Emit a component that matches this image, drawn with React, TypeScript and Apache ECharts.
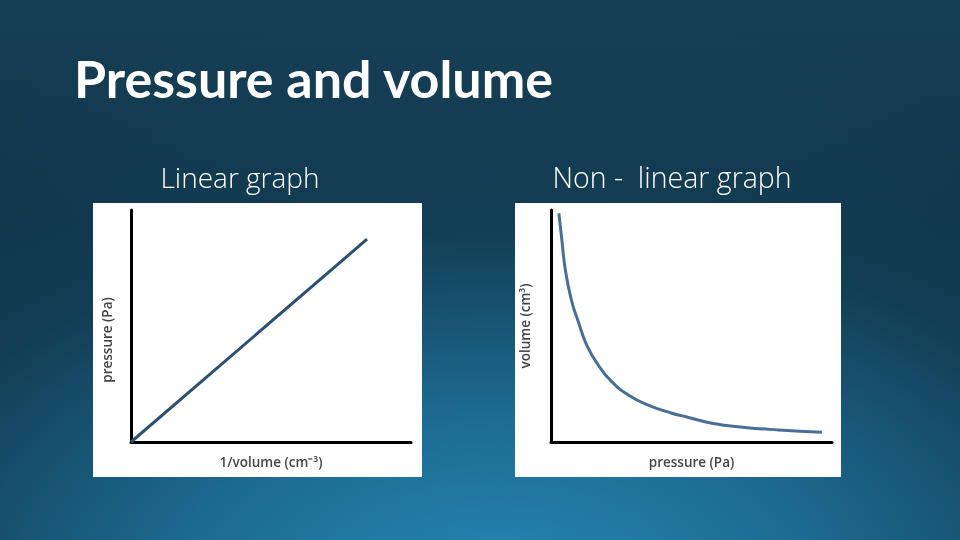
import React, { useEffect, useRef } from "react";
import * as echarts from "echarts";

const titleText = "Pressure and volume";
const subtitles = ["Linear graph", "Non -  linear graph"];
const axisNames = {
  leftX: "1/volume (cm⁻³)",
  leftY: "pressure (Pa)",
  rightX: "pressure (Pa)",
  rightY: "volume (cm³)",
};
const linearData: [number, number][] = [
  [0, 0],
  [8.43, 8.74],
];
const curveData: [number, number][] = [
  [0.28, 9.86],
  [0.38, 8.78],
  [0.52, 7.34],
  [0.74, 6.05],
  [0.97, 5.19],
  [1.27, 4.18],
  [1.68, 3.32],
  [2.16, 2.6],
  [2.75, 2.03],
  [3.46, 1.59],
  [4.3, 1.24],
  [4.77, 1.1],
  [5.73, 0.81],
  [6.91, 0.63],
  [8.1, 0.52],
  [9.64, 0.42],
];

export default function App() {
  const ref = useRef<HTMLDivElement>(null);
  useEffect(() => {
    if (!ref.current) return;
    const chart = echarts.init(ref.current, null, { renderer: "svg" });
    const axisLine = { show: true, lineStyle: { color: "#000", width: 3 } };
    const nameStyle = {
      fontFamily: "Open Sans",
      fontSize: 13.5,
      fontWeight: 600,
      color: "#454545",
    };
    const baseAxis = {
      type: "value" as const,
      min: 0,
      max: 10,
      axisLine,
      axisTick: { show: false },
      axisLabel: { show: false },
      splitLine: { show: false },
      nameLocation: "middle" as const,
      nameTextStyle: nameStyle,
    };
    chart.setOption({
      animation: false,
      graphic: [
        {
          type: "rect",
          z: -10,
          shape: { x: 0, y: 0, width: 960, height: 540 },
          style: {
            fill: new echarts.graphic.RadialGradient(0.52, 1.1, 1.1, [
              { offset: 0, color: "#2489b4" },
              { offset: 0.3, color: "#1d6b92" },
              { offset: 0.62, color: "#123d54" },
              { offset: 1, color: "#0d2f42" },
            ]),
          },
        },
        {
          type: "rect",
          z: -9,
          shape: { x: 0, y: 0, width: 960, height: 230 },
          style: {
            fill: new echarts.graphic.LinearGradient(0, 0, 0, 1, [
              { offset: 0, color: "rgba(35,85,112,0.45)" },
              { offset: 1, color: "rgba(35,85,112,0)" },
            ]),
          },
        },
        {
          type: "rect",
          z: -5,
          shape: { x: 93, y: 203, width: 329, height: 274 },
          style: { fill: "#ffffff" },
        },
        {
          type: "rect",
          z: -5,
          shape: { x: 515, y: 203, width: 326, height: 274 },
          style: { fill: "#ffffff" },
        },
        {
          type: "text",
          x: 74,
          y: 78,
          style: {
            text: titleText,
            fill: "#ffffff",
            font: "bold 52px Lato",
            textVerticalAlign: "middle",
          },
        },
        {
          type: "text",
          x: 240,
          y: 177,
          style: {
            text: subtitles[0],
            fill: "#ffffff",
            font: "300 28px 'Open Sans'",
            textAlign: "center",
            textVerticalAlign: "middle",
          },
        },
        {
          type: "text",
          x: 672,
          y: 177,
          style: {
            text: subtitles[1],
            fill: "#ffffff",
            font: "300 28.5px 'Open Sans'",
            textAlign: "center",
            textVerticalAlign: "middle",
          },
        },
      ],
      grid: [
        { left: 131, top: 210, width: 280, height: 232 },
        { left: 551, top: 210, width: 281, height: 232 },
      ],
      xAxis: [
        { ...baseAxis, gridIndex: 0, name: axisNames.leftX, nameGap: 13 },
        { ...baseAxis, gridIndex: 1, name: axisNames.rightX, nameGap: 13 },
      ],
      yAxis: [
        {
          ...baseAxis,
          gridIndex: 0,
          name: axisNames.leftY,
          nameGap: 17,
          nameTextStyle: { ...nameStyle, padding: [0, 28, 0, 0] },
        },
        { ...baseAxis, gridIndex: 1, name: axisNames.rightY, nameGap: 19 },
      ],
      series: [
        {
          type: "line",
          xAxisIndex: 0,
          yAxisIndex: 0,
          data: linearData,
          showSymbol: false,
          lineStyle: { color: "#2d4f70", width: 3 },
        },
        {
          type: "line",
          xAxisIndex: 1,
          yAxisIndex: 1,
          data: curveData,
          smooth: true,
          showSymbol: false,
          lineStyle: { color: "#4a6f97", width: 3 },
        },
      ],
    });
    return () => chart.dispose();
  }, []);
  return (
    <div
      ref={ref}
      style={{ position: "fixed", left: 0, top: 0, width: 960, height: 540 }}
    />
  );
}
